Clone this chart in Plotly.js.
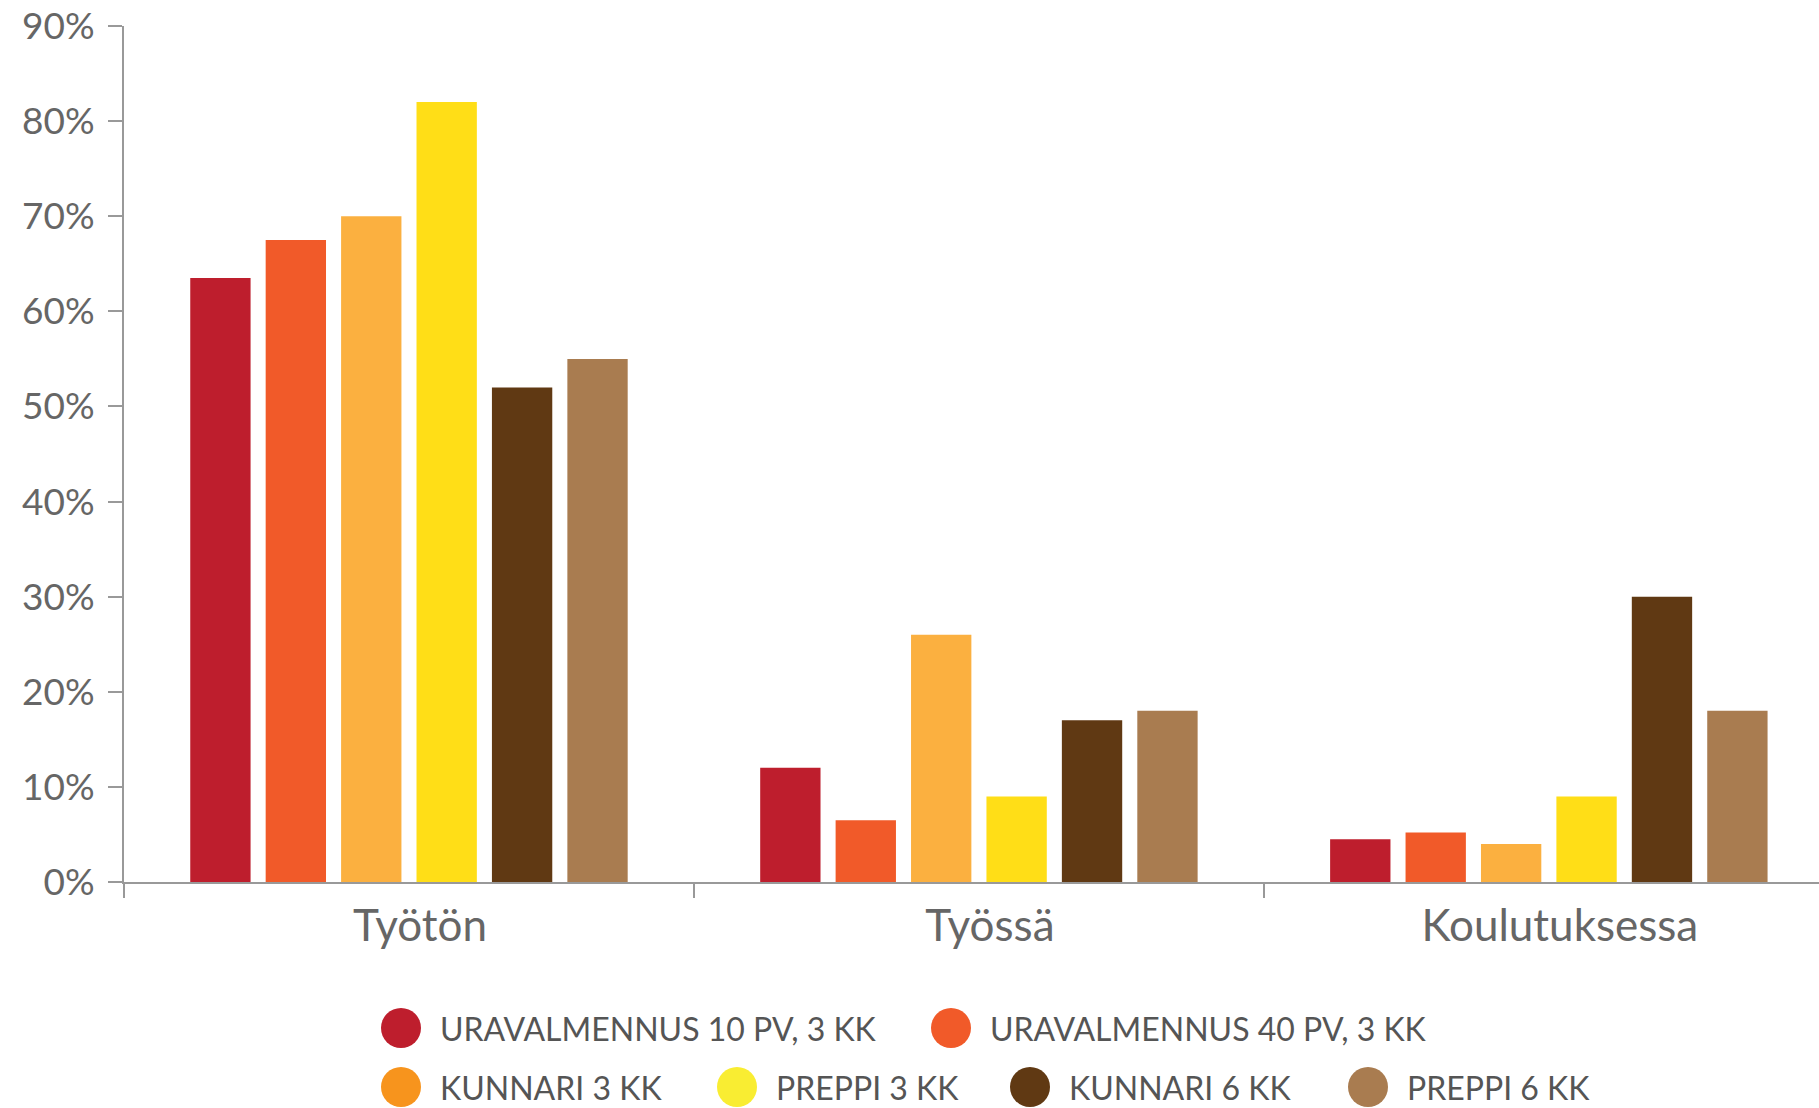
<!DOCTYPE html>
<html>
<head>
<meta charset="utf-8">
<script src="https://cdn.plot.ly/plotly-3.0.1.min.js"></script>
<style>html,body{margin:0;padding:0;background:#fff;}#chart{width:1819px;height:1108px;}</style>
</head>
<body>
<div id="chart"></div>
<script>
const categories = ['Työtön', 'Työssä', 'Koulutuksessa'];
const seriesNames = ['URAVALMENNUS 10 PV, 3 KK', 'URAVALMENNUS 40 PV, 3 KK', 'KUNNARI 3 KK', 'PREPPI 3 KK', 'KUNNARI 6 KK', 'PREPPI 6 KK'];
const uravalmennus10 = [63.5, 12, 4.5];
const uravalmennus40 = [67.5, 6.5, 5.2];
const kunnari3 = [70, 26, 4];
const preppi3 = [82, 9, 9];
const kunnari6 = [52, 17, 30];
const preppi6 = [55, 18, 18];
const seriesValues = [uravalmennus10, uravalmennus40, kunnari3, preppi3, kunnari6, preppi6];
const barColors = ['#BE1E2D', '#F15A29', '#FBB040', '#FFDE17', '#603913', '#A97C50'];
const legendColors = ['#BE1E2D', '#F15A29', '#F7941D', '#F9ED32', '#603913', '#A97C50'];

const W = 1819, H = 1108;
const mL = 124, mR = 0, mT = 26, mB = 226;
const plotW = W - mL - mR, plotH = H - mT - mB;

const traces = seriesNames.map((n, i) => ({
  type: 'bar', name: n, x: categories, y: seriesValues[i],
  marker: {color: barColors[i]}, showlegend: false, hoverinfo: 'x+y+name'
}));

// custom legend (large circular markers)
const legendPos = [
  {cx: 401, tx: 438, cy: 1028}, {cx: 951, tx: 988, cy: 1028},
  {cx: 401, tx: 438, cy: 1087}, {cx: 737, tx: 774, cy: 1087},
  {cx: 1030, tx: 1067, cy: 1087}, {cx: 1368, tx: 1405, cy: 1087}
];
const px2x = p => (p - mL) / plotW;
const py2y = p => (H - mB - p) / plotH;
const shapes = [], annotations = [];
seriesNames.forEach((n, i) => {
  const p = legendPos[i];
  shapes.push({type: 'circle', xref: 'paper', yref: 'paper', xsizemode: 'pixel', ysizemode: 'pixel',
    xanchor: px2x(p.cx), yanchor: py2y(p.cy), x0: -20, x1: 20, y0: -20, y1: 20,
    fillcolor: legendColors[i], line: {width: 0}});
  annotations.push({xref: 'paper', yref: 'paper', x: px2x(p.tx), y: py2y(p.cy),
    xanchor: 'left', yanchor: 'middle', showarrow: false, text: n,
    font: {family: 'Lato, sans-serif', size: 32, color: '#555'}});
});

const layout = {
  width: W, height: H,
  margin: {l: mL, r: mR, t: mT, b: mB, pad: 0},
  paper_bgcolor: '#fff', plot_bgcolor: '#fff',
  bargap: 0.206, bargroupgap: 0.2,
  font: {family: 'Lato, sans-serif', color: '#666'},
  xaxis: {
    type: 'category', range: [-0.5, 2.474], showgrid: false, zeroline: false,
    showline: true, linecolor: '#999', linewidth: 2,
    ticks: 'outside', tickson: 'boundaries', ticklen: 14, tickcolor: '#999', tickwidth: 2,
    ticklabelshift: 11, ticklabelstandoff: 4,
    tickfont: {family: 'Lato, sans-serif', size: 44, color: '#666'}
  },
  yaxis: {
    range: [0, 90], dtick: 10, ticksuffix: '%', showgrid: false, zeroline: false,
    showline: true, linecolor: '#999', linewidth: 2,
    ticks: 'outside', ticklen: 14, tickcolor: '#999', tickwidth: 2, ticklabelstandoff: 6,
    tickfont: {family: 'Lato, sans-serif', size: 37, color: '#666'}
  },
  shapes: shapes, annotations: annotations, showlegend: false
};
Plotly.newPlot('chart', traces, layout, {displayModeBar: false, staticPlot: true});
</script>
</body>
</html>
